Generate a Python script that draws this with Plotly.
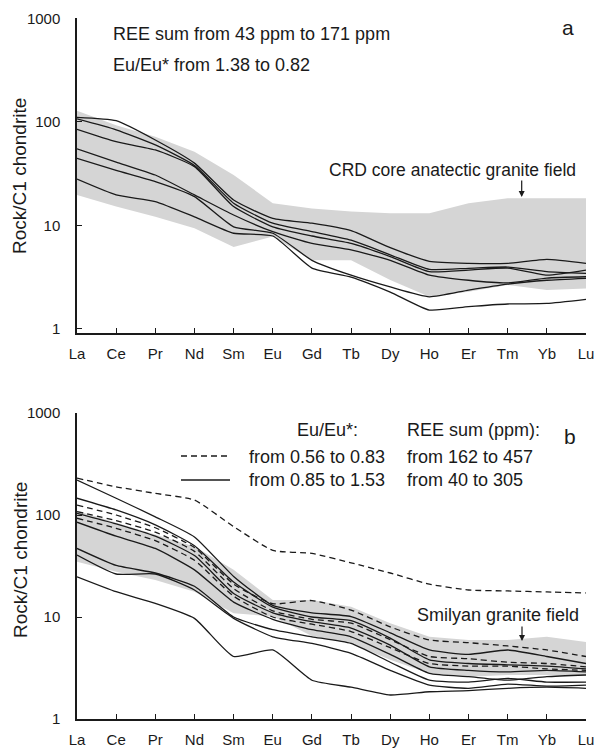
import plotly.graph_objects as go

elements = ["La", "Ce", "Pr", "Nd", "Sm", "Eu", "Gd", "Tb", "Dy", "Ho", "Er", "Tm", "Yb", "Lu"]
xs = list(range(len(elements)))

# ---- panel a : CRD core anatectic granites ----
field_a_upper = [128, 93, 72, 51.6, 30.7, 16.4, 14.6, 13.6, 13.1, 13.1, 16.4, 18.3, 18.3, 18.3]
field_a_lower = [19.7, 15.2, 12.1, 9.4, 6.2, 7.8, 4.6, 4.6, 2.96, 2.04, 2.29, 2.65, 2.37, 2.46]
a1 = [111, 103, 67, 40, 17.6, 11.7, 10.5, 8.9, 6.1, 4.5, 4.3, 4.3, 4.7, 4.3]
a2 = [107, 84, 60, 38, 16.4, 10.5, 8.7, 7.2, 5.2, 3.76, 3.85, 3.96, 3.57, 3.44]
a3 = [85, 64.5, 53.6, 37, 15.2, 9.7, 7.9, 6.7, 5.0, 3.57, 3.7, 3.87, 3.31, 3.7]
a4 = [55, 41, 30.7, 19.7, 12.6, 8.7, 6.7, 5.8, 4.6, 3.31, 2.95, 2.78, 3.1, 3.19]
a5 = [44.5, 34, 26.5, 19, 9.7, 8.4, 4.6, 3.3, 2.54, 2.04, 2.37, 2.71, 2.95, 3.08]
a6 = [28, 19.7, 17, 12.1, 8.4, 7.9, 3.87, 3.17, 2.27, 1.52, 1.64, 1.74, 1.76, 1.93]
lines_a = [a1, a2, a3, a4, a5, a6]

# ---- panel b : Smilyan granites ----
field_b_upper = [110, 84, 64, 49, 29, 14.7, 14.7, 12.6, 8.7, 6.4, 5.95, 5.95, 6.4, 5.7]
field_b_lower = [34.8, 27.8, 23, 17.7, 10.9, 10.1, 6.5, 5.5, 3.8, 2.8, 2.6, 2.7, 2.7, 2.7]
b_dashed = [
    [230, 189, 163, 140, 77, 45, 42, 34, 27, 21, 18.4, 18, 17.6, 17.2],
    [125, 100, 75, 48, 21, 13.5, 14.5, 11.7, 8.0, 5.95, 5.6, 5.2, 4.75, 4.1],
    [108, 88, 68, 44, 19, 11.5, 9.5, 8.7, 6.0, 4.1, 3.9, 3.6, 3.5, 3.25],
    [93, 74, 56, 36, 16, 10, 8.5, 7.2, 5.0, 3.5, 3.3, 3.3, 3.1, 3.0],
]
b_solid = [
    [220, 146, 96, 61, 25, 13, 11, 10.1, 7.0, 4.75, 4.3, 4.75, 4.1, 3.5],
    [146, 112, 80, 50, 22, 12.5, 10, 9.2, 6.2, 3.8, 3.5, 3.4, 3.3, 3.1],
    [104, 82, 62, 40, 17, 11, 9, 7.8, 5.3, 3.25, 3.0, 2.9, 3.0, 2.9],
    [85, 62, 47, 29, 14, 9.5, 7.5, 6.4, 4.3, 2.8, 2.6, 2.4, 2.6, 2.7],
    [47, 32, 27, 20, 10, 7.5, 6.4, 5.5, 3.6, 2.4, 2.3, 2.5, 2.3, 2.3],
    [40.5, 26.4, 26.4, 18.4, 9.7, 6.4, 5.5, 4.4, 3.0, 2.15, 2.0, 2.2, 2.1, 2.15],
    [24.8, 17.7, 13.6, 9.7, 4.1, 4.75, 2.4, 2.05, 1.72, 1.85, 1.9, 2.0, 2.05, 2.0],
]

y_tickvals = [1, 10, 100, 1000]
y_ticktext = ["1", "10", "100", "1000"]

FONT = "Liberation Sans, Arial, sans-serif"
FIELD = "#d5d5d5"
INK = "#1a1a1a"

W, H = 595, 752
PLOT_L, PLOT_R, PLOT_T, PLOT_B = 77, 586, 18, 719   # page pixel positions
ML, MR, MT, MB = PLOT_L, W - PLOT_R, PLOT_T, H - PLOT_B
PW = W - ML - MR
PH = H - MT - MB


def px(x):
    return (x - PLOT_L) / PW


def py(y):
    return (PLOT_B - y) / PH


fig = go.Figure()


def add_field(upper, lower, xa, ya):
    fig.add_trace(go.Scatter(
        x=xs + xs[::-1], y=upper + lower[::-1], fill="toself", fillcolor=FIELD,
        line=dict(width=0), mode="lines", hoverinfo="skip", showlegend=False,
        xaxis=xa, yaxis=ya))


def add_line(vals, xa, ya, dash="solid"):
    fig.add_trace(go.Scatter(
        x=xs, y=vals, mode="lines",
        line=dict(color=INK, width=1.3, dash=dash, shape="spline", smoothing=0.5),
        showlegend=False, xaxis=xa, yaxis=ya))


add_field(field_a_upper, field_a_lower, "x", "y")
for v in lines_a:
    add_line(v, "x", "y")

add_field(field_b_upper, field_b_lower, "x2", "y2")
for v in b_dashed:
    add_line(v, "x2", "y2", dash="6px,4px")
for v in b_solid:
    add_line(v, "x2", "y2")

xaxis_common = dict(
    range=[0, 13], tickmode="array", tickvals=xs, ticktext=elements,
    ticks="inside", ticklen=5, tickcolor=INK, tickwidth=1.2,
    showline=True, linecolor=INK, linewidth=1.5, showgrid=False, zeroline=False,
    tickfont=dict(family=FONT, size=15, color=INK), ticklabelstandoff=6,
    automargin=False,
)
yaxis_common = dict(
    type="log", tickmode="array", tickvals=y_tickvals, ticktext=y_ticktext,
    ticks="inside", ticklen=5, tickcolor=INK, tickwidth=1.2,
    showline=True, linecolor=INK, linewidth=1.5, showgrid=False, zeroline=False,
    tickfont=dict(family=FONT, size=15, color=INK), ticklabelstandoff=12,
    automargin=False,
)

fig.update_layout(
    width=W, height=H, autosize=False,
    margin=dict(l=ML, r=MR, t=MT, b=MB, pad=0),
    paper_bgcolor="white", plot_bgcolor="white",
    xaxis=dict(domain=[0, 1], anchor="y", **xaxis_common),
    yaxis=dict(domain=[py(333), 1], anchor="x", range=[-0.04, 3.005], **yaxis_common),
    xaxis2=dict(domain=[0, 1], anchor="y2", **xaxis_common),
    yaxis2=dict(domain=[0, py(413)], anchor="x2", range=[0, 3], **yaxis_common),
)

ann = []


def text(x, y, s, size=18, xanchor="left", angle=0):
    ann.append(dict(x=px(x), y=py(y), xref="paper", yref="paper", text=s,
                    showarrow=False, xanchor=xanchor, yanchor="middle",
                    textangle=angle, font=dict(family=FONT, size=size, color=INK)))


# axis titles
text(20, 176, "Rock/C1 chondrite", size=19, xanchor="center", angle=-90)
text(20, 560, "Rock/C1 chondrite", size=19, xanchor="center", angle=-90)

# panel a texts
text(111, 34, "REE sum from 43 ppm to 171 ppm", size=18)
text(111, 65, "Eu/Eu* from 1.38 to 0.82", size=18)
text(568, 28, "a", size=21, xanchor="center")
text(452, 170, "CRD core anatectic granite field", size=17.5, xanchor="center")

# panel b texts
text(570, 436, "b", size=21, xanchor="center")
text(327, 430, "Eu/Eu*:", size=18, xanchor="center")
text(405, 430, "REE sum (ppm):", size=18)
text(387, 457, "from 0.56 to 0.83", size=18, xanchor="right")
text(387, 480, "from 0.85 to 1.53", size=18, xanchor="right")
text(405, 457, "from 162 to 457", size=18)
text(405, 480, "from 40 to 305", size=18)
text(498, 615, "Smilyan granite field", size=18, xanchor="center")

# arrows
for (x0, ytail, ytip) in [(521.7, 179, 197), (522, 625, 641)]:
    ann.append(dict(x=px(x0), y=py(ytip), xref="paper", yref="paper",
                    ax=0, ay=ytail - ytip, axref="pixel", ayref="pixel",
                    showarrow=True, arrowhead=2, arrowsize=1, arrowwidth=1.2,
                    arrowcolor=INK, text=""))

fig.update_layout(annotations=ann)

# legend line samples in panel b
fig.add_shape(type="line", xref="paper", yref="paper",
              x0=px(181), x1=px(230), y0=py(456), y1=py(456),
              line=dict(color=INK, width=1.3, dash="6px,4px"))
fig.add_shape(type="line", xref="paper", yref="paper",
              x0=px(181), x1=px(230), y0=py(480), y1=py(480),
              line=dict(color=INK, width=1.3))

# remove the default page margin so the figure sits at the window origin
fig.write_html(
    "out.html",
    config={"displayModeBar": False},
    post_script="document.body.style.margin='0';document.body.style.overflow='hidden';",
)
